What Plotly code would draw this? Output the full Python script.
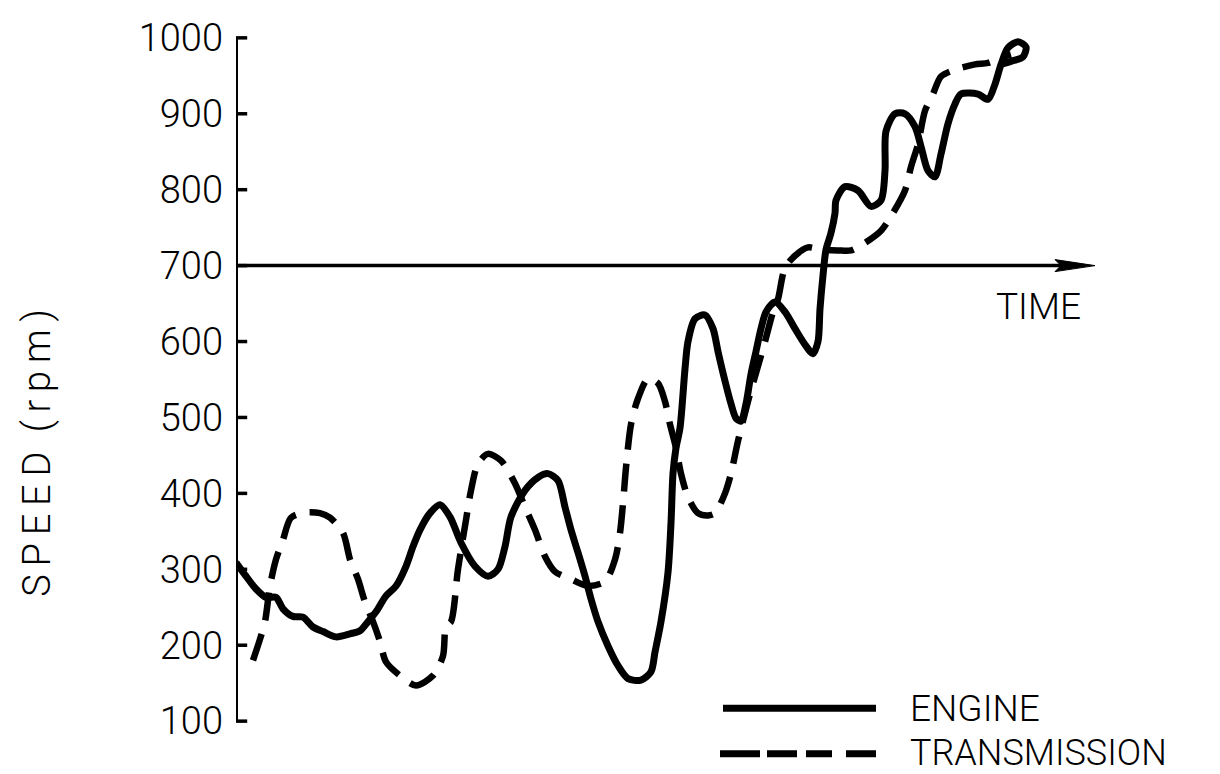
import plotly.graph_objects as go

# ---------------- data ----------------
engine_time = [0, 10, 20, 30, 40, 47, 57, 67, 77, 87, 100, 114, 124, 132, 140, 150, 160, 170, 177, 184,
               194, 204, 214, 225, 239, 252, 262, 269, 275, 289, 302, 312, 322, 329, 335, 342, 349, 355, 362, 372,
               382, 392, 405, 415, 419, 425, 432, 435, 437, 440, 444, 449, 452, 459, 469, 477, 482, 489, 495, 500,
               505, 510, 515, 520, 525, 530, 539, 549, 559, 569, 577, 582, 584, 587, 590, 595, 599, 600, 609, 622,
               635, 645, 649, 650, 659, 669, 679, 685, 692, 699, 705, 712, 719, 725, 742, 752, 759, 765, 772, 782,
               790, 787, 775, 765]
engine_rpm = [309, 291, 274, 263, 263, 248, 238, 237, 224, 218, 211, 215, 219, 231, 244, 265, 278, 304, 330, 352,
              374, 385, 369, 335, 304, 291, 300, 330, 369, 404, 421, 426, 417, 382, 352, 322, 291, 261, 231, 199,
              173, 156, 154, 165, 191, 231, 296, 361, 426, 460, 486, 564, 600, 630, 635, 617, 587, 548, 518, 499,
              495, 518, 557, 587, 617, 639, 652, 639, 617, 596, 584, 600, 643, 687, 721, 743, 769, 786, 804, 799,
              778, 786, 825, 877, 900, 900, 883, 857, 825, 817, 847, 887, 913, 926, 926, 919, 939, 965, 987, 995,
              988, 975, 969, 965]

trans_time = [17, 24, 29, 34, 40, 47, 55, 70, 84, 94, 107, 114, 122, 129, 137, 144, 150, 164, 180, 197,
              207, 210, 215, 222, 230, 235, 242, 252, 265, 279, 289, 299, 309, 319, 335, 352, 369, 379, 384, 387,
              390, 395, 402, 412, 422, 429, 434, 440, 445, 452, 462, 472, 479, 489, 495, 502, 512, 529, 537, 542,
              549, 559, 572, 585, 602, 615, 629, 645, 655, 669, 675, 682, 689, 697, 705, 719, 739, 752, 765, 775]
trans_rpm = [180, 208, 231, 278, 313, 339, 368, 375, 374, 368, 348, 313, 287, 257, 231, 205, 178, 160, 147, 160,
             186, 225, 231, 300, 365, 404, 439, 452, 443, 413, 382, 352, 317, 297, 287, 278, 284, 313, 348, 387,
             434, 491, 525, 551, 545, 521, 491, 460, 426, 395, 374, 371, 374, 400, 426, 469, 521, 600, 639, 656,
             697, 713, 724, 721, 720, 720, 730, 746, 765, 799, 830, 860, 904, 926, 949, 958, 965, 967, 974, 978]

tick_values = [100, 200, 300, 400, 500, 600, 700, 800, 900, 1000]
tick_labels = ["100", "200", "300", "400", "500", "600", "700", "800", "900", "1000"]
time_axis_level = 700
time_axis_end = 859
series_names = ["ENGINE", "TRANSMISSION"]
y_title = "S\u2009P\u2009E\u2009E\u2009D\u2002(\u2009r\u2009p\u2009m\u2009)"
x_title = "TIME"

# ---------------- layout geometry ----------------
W, H = 1220, 774
ML, MR, MT, MB = 228, 112, 8, 46
PW, PH = W - ML - MR, H - MT - MB
FONT = "Roboto"
INK = "black"


def px_x(px):
    return (px - ML) / PW


def px_y(py):
    return (H - MB - py) / PH


fig = go.Figure()

fig.add_trace(go.Scatter(
    x=engine_time, y=engine_rpm, mode="lines", name=series_names[0],
    line=dict(color=INK, width=7, shape="spline", smoothing=0.8),
    showlegend=False, hoverinfo="skip"))

fig.add_trace(go.Scatter(
    x=trans_time, y=trans_rpm, mode="lines", name=series_names[1],
    line=dict(color=INK, width=6.5, shape="spline", smoothing=0.8, dash="28px,14px"),
    showlegend=False, hoverinfo="skip"))

# y-axis tick crossbars
fig.add_trace(go.Scatter(
    x=[0] * len(tick_values), y=tick_values, mode="markers",
    marker=dict(symbol="line-ew", size=16, line=dict(color=INK, width=3.5)),
    showlegend=False, hoverinfo="skip"))

shapes = [
    dict(type="line", xref="x", yref="y", x0=0, x1=0,
         y0=min(tick_values), y1=max(tick_values), line=dict(color=INK, width=4)),
    dict(type="line", xref="x", yref="y", x0=0, x1=time_axis_end - 20,
         y0=time_axis_level, y1=time_axis_level, line=dict(color=INK, width=3.5)),
    dict(type="path", xref="x", yref="y", xsizemode="pixel", ysizemode="pixel",
         xanchor=time_axis_end, yanchor=time_axis_level,
         path="M0,0 L-40,6 L-34,0 L-40,-6 Z", fillcolor=INK, line=dict(color=INK, width=1)),
    dict(type="line", xref="paper", yref="paper", x0=px_x(715), x1=px_x(868),
         y0=px_y(700), y1=px_y(700), line=dict(color=INK, width=7)),
    dict(type="line", xref="paper", yref="paper", x0=px_x(712), x1=px_x(868),
         y0=px_y(746), y1=px_y(746), line=dict(color=INK, width=7, dash="40px,7px,30px,9px,26px,14px,31px")),
]

annotations = [
    dict(text=x_title, xref="paper", yref="paper", x=px_x(986), y=px_y(294),
         xanchor="left", yanchor="middle", showarrow=False,
         font=dict(family=FONT, size=37, color=INK, weight=300)),
    dict(text=y_title, xref="paper", yref="paper", x=px_x(29), y=px_y(442),
         xanchor="center", yanchor="middle", textangle=-90, showarrow=False,
         font=dict(family=FONT, size=38, color=INK, weight=300)),
    dict(text=series_names[0], xref="paper", yref="paper", x=px_x(900), y=px_y(700),
         xanchor="left", yanchor="middle", showarrow=False,
         font=dict(family=FONT, size=37, color=INK, weight=300)),
    dict(text=series_names[1], xref="paper", yref="paper", x=px_x(900), y=px_y(745),
         xanchor="left", yanchor="middle", showarrow=False,
         font=dict(family=FONT, size=36, color=INK, weight=300)),
]

units_per_px = (max(tick_values) - min(tick_values)) / (713 - 23)
y_top = max(tick_values) + (23 - MT) * units_per_px
y_bot = min(tick_values) - (H - MB - 713) * units_per_px

fig.update_layout(
    width=W, height=H,
    margin=dict(l=ML, r=MR, t=MT, b=MB),
    paper_bgcolor="white", plot_bgcolor="white",
    shapes=shapes, annotations=annotations,
    xaxis=dict(range=[0, PW], visible=False, fixedrange=True),
    yaxis=dict(range=[y_bot, y_top], showgrid=False, zeroline=False, showline=False,
               tickmode="array", tickvals=tick_values, ticktext=tick_labels,
               ticks="", ticklabelstandoff=12,
               tickfont=dict(family=FONT, size=38, color=INK, weight=300), fixedrange=True),
)

fig.write_html("out.html")
